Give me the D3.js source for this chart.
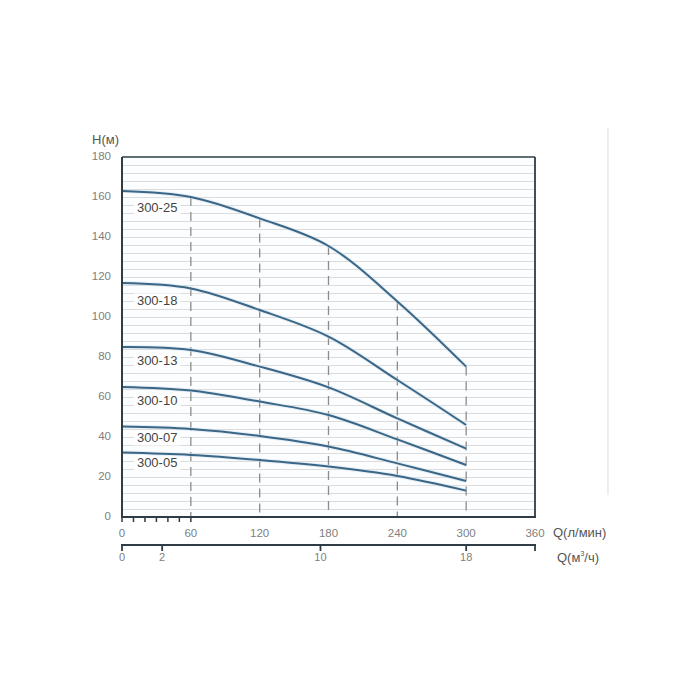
<!DOCTYPE html>
<html>
<head>
<meta charset="utf-8">
<script src="https://cdn.jsdelivr.net/npm/d3@7"></script>
<style>
  html, body { margin: 0; padding: 0; background: #ffffff; }
  svg { display: block; }
  text { font-family: "Liberation Sans", Arial, sans-serif; }
</style>
</head>
<body>
<svg id="chart" width="700" height="700"></svg>
<script>
// ---- data ----
const flowPoints = [0, 60, 120, 180, 240, 300];          // Q (л/мин)
const seriesNames = ["300-25", "300-18", "300-13", "300-10", "300-07", "300-05"];
const head25 = [163, 160, 149.3, 135.5, 107.8, 75.2];
const head18 = [117, 114.3, 103.5, 90.2, 68.5, 46];
const head13 = [85, 83.5, 75.2, 64.8, 49.3, 34.2];
const head10 = [65, 63.2, 57.7, 51, 38.8, 26];
const head07 = [45.2, 44, 40.5, 35.2, 26.8, 18];
const head05 = [32.2, 31, 28.5, 25.2, 20.5, 13.2];
const labelHeads = [154, 107.5, 77.5, 57.5, 39, 26.5];    // label vertical position (H units)
const yTicks = [0, 20, 40, 60, 80, 100, 120, 140, 160, 180];
const xTicks = [0, 60, 120, 180, 240, 300, 360];
const xMinorTicks = [0, 10, 20, 30, 40, 50, 60];
const dashedAt = [60, 120, 180, 240, 300];
const m3Labels = ["0", "2", "10", "18"];
const m3AsLpm = [0, 35, 173, 300];                        // where the m³/ч ticks sit on the л/мин scale

const allHeads = [head25, head18, head13, head10, head07, head05];

// ---- layout ----
const svg = d3.select("#chart");
const x = d3.scaleLinear().domain([0, 360]).range([122, 535]);
const y = d3.scaleLinear().domain([0, 180]).range([517, 157]);
const curveColor = "#3b6685";
const frameColor = "#2f3c46";

// plot background
svg.append("rect")
  .attr("x", x(0)).attr("y", y(180))
  .attr("width", x(360) - x(0)).attr("height", y(0) - y(180))
  .attr("fill", "#fcfdfe");

// horizontal grid every 4 m
const gridVals = d3.range(4, 180, 4);
svg.append("g").selectAll("line").data(gridVals).join("line")
  .attr("x1", x(0)).attr("x2", x(360))
  .attr("y1", d => y(d) + 0.5).attr("y2", d => y(d) + 0.5)
  .attr("stroke", "#dcdcdc").attr("stroke-width", 1);

// series labels with white background
const lg = svg.append("g");
seriesNames.forEach((name, i) => {
  const g = lg.append("g");
  const t = g.append("text")
    .attr("x", x(13)).attr("y", y(labelHeads[i]))
    .attr("dominant-baseline", "middle")
    .attr("font-size", 13)
    .attr("fill", "#444")
    .text(name);
  const bb = t.node().getBBox();
  g.insert("rect", "text")
    .attr("x", bb.x - 3).attr("y", bb.y)
    .attr("width", bb.width + 6).attr("height", bb.height)
    .attr("fill", "#ffffff");
});

// dashed verticals (from top curve down to 0)
const topInterp = d3.scaleLinear().domain(flowPoints).range(head25);
svg.append("g").selectAll("line").data(dashedAt).join("line")
  .attr("x1", d => x(d)).attr("x2", d => x(d))
  .attr("y1", d => y(topInterp(d))).attr("y2", y(0))
  .attr("stroke", "#8c8c8c").attr("stroke-width", 1.3)
  .attr("stroke-dasharray", "9,6");

// curves
const line = d3.line()
  .x((d, i) => x(flowPoints[i]))
  .y(d => y(d))
  .curve(d3.curveCatmullRom.alpha(0.5));

svg.append("g").selectAll("path").data(allHeads).join("path")
  .attr("d", d => line(d))
  .attr("fill", "none")
  .attr("stroke", "#cfe3f1").attr("stroke-width", 4).attr("opacity", 0.5);
svg.append("g").selectAll("path").data(allHeads).join("path")
  .attr("d", d => line(d))
  .attr("fill", "none")
  .attr("stroke", curveColor).attr("stroke-width", 2);

// frame
svg.append("line").attr("x1", x(0)).attr("x2", x(360)).attr("y1", y(180)).attr("y2", y(180))
  .attr("stroke", frameColor).attr("stroke-width", 1.5);
svg.append("line").attr("x1", x(360)).attr("x2", x(360)).attr("y1", y(180)).attr("y2", y(0))
  .attr("stroke", frameColor).attr("stroke-width", 1.8);
svg.append("line").attr("x1", x(0)).attr("x2", x(0)).attr("y1", y(180)).attr("y2", y(0))
  .attr("stroke", frameColor).attr("stroke-width", 2);
svg.append("line").attr("x1", x(0) - 1).attr("x2", x(360) + 1).attr("y1", y(0)).attr("y2", y(0))
  .attr("stroke", frameColor).attr("stroke-width", 2);

// minor ticks under bottom axis 0..60
svg.append("g").selectAll("line").data(xMinorTicks).join("line")
  .attr("x1", d => x(d)).attr("x2", d => x(d))
  .attr("y1", y(0)).attr("y2", y(0) + 5)
  .attr("stroke", frameColor).attr("stroke-width", 1.5);

// y tick labels
svg.append("g").selectAll("text").data(yTicks).join("text")
  .attr("x", 111).attr("y", d => y(d))
  .attr("text-anchor", "end").attr("dominant-baseline", "middle")
  .attr("font-size", 11.5).attr("fill", "#808080")
  .text(d => d);

svg.append("text").attr("x", 92).attr("y", 141)
  .attr("dominant-baseline", "middle")
  .attr("font-size", 13).attr("fill", "#555")
  .text("H(м)");

// x tick labels (л/мин)
svg.append("g").selectAll("text").data(xTicks).join("text")
  .attr("x", d => x(d)).attr("y", 534)
  .attr("text-anchor", "middle").attr("dominant-baseline", "middle")
  .attr("font-size", 11.5).attr("fill", "#808080")
  .text(d => d);
svg.append("text").attr("x", 553).attr("y", 534)
  .attr("dominant-baseline", "middle")
  .attr("font-size", 13).attr("fill", "#555")
  .text("Q(л/мин)");

// second axis (м³/ч)
const axY = 545;
svg.append("line").attr("x1", x(0) - 1).attr("x2", x(360) + 1).attr("y1", axY).attr("y2", axY)
  .attr("stroke", frameColor).attr("stroke-width", 2);
svg.append("g").selectAll("line").data(m3AsLpm.concat([360])).join("line")
  .attr("x1", d => x(d)).attr("x2", d => x(d))
  .attr("y1", axY).attr("y2", axY + 6)
  .attr("stroke", frameColor).attr("stroke-width", 1.8);
svg.append("g").selectAll("text").data(m3AsLpm).join("text")
  .attr("x", d => x(d)).attr("y", 558)
  .attr("text-anchor", "middle").attr("dominant-baseline", "middle")
  .attr("font-size", 11).attr("fill", "#808080")
  .text((d, i) => m3Labels[i]);
const qt = svg.append("text").attr("x", 557).attr("y", 559)
  .attr("dominant-baseline", "middle")
  .attr("font-size", 13).attr("fill", "#555");
qt.append("tspan").text("Q(м");
qt.append("tspan").attr("font-size", 7).attr("dy", -5).text("3");
qt.append("tspan").attr("dy", 5).text("/ч)");

// faint vertical line at right
svg.append("line").attr("x1", 608).attr("x2", 608).attr("y1", 128).attr("y2", 495)
  .attr("stroke", "#e2e2e2").attr("stroke-width", 1.2);
</script>
</body>
</html>
